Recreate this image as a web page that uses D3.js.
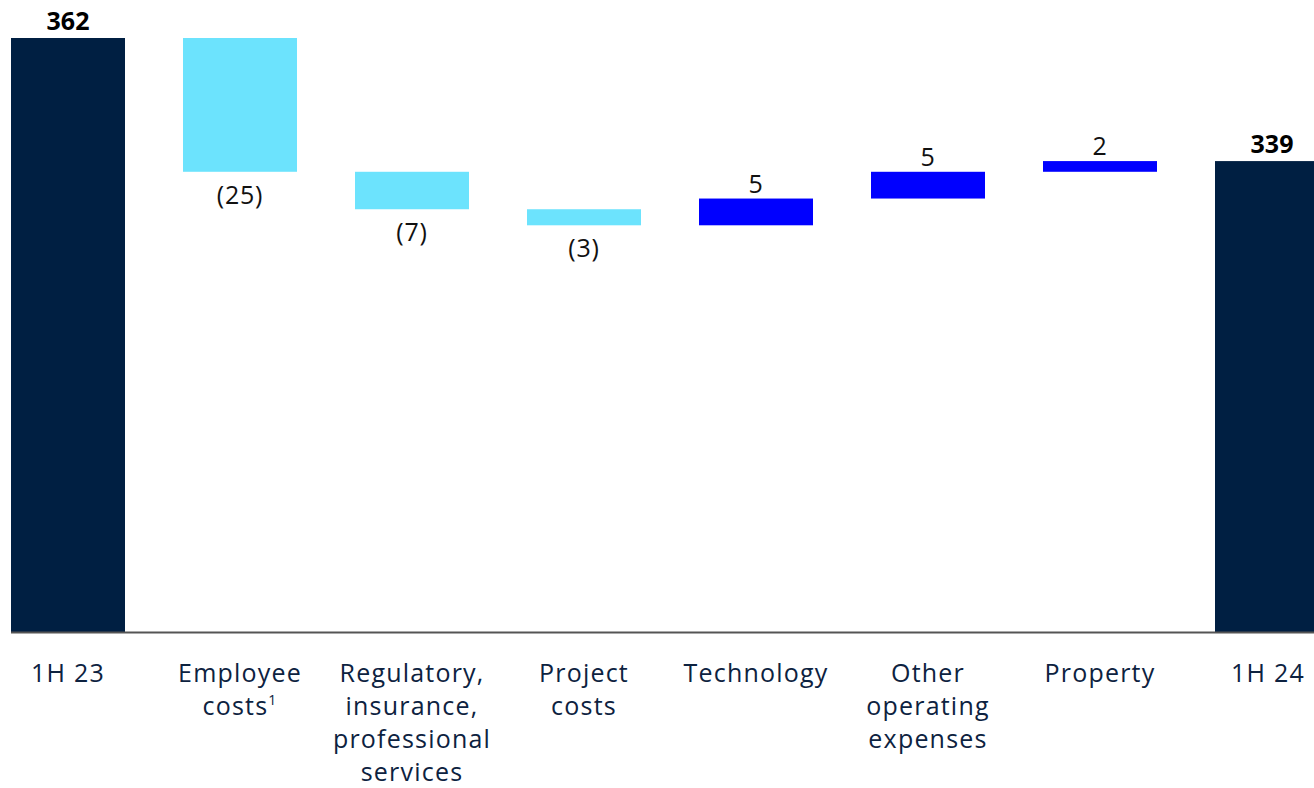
<!DOCTYPE html>
<html><head><meta charset="utf-8">
<script src="https://cdn.jsdelivr.net/npm/d3@7"></script>
<style>body{margin:0;background:#fff;overflow:hidden}svg{display:block}</style>
</head><body>
<svg id="c" width="1314" height="788"></svg>
<script>
const categories = ["1H 23","Employee costs","Regulatory, insurance, professional services","Project costs","Technology","Other operating expenses","Property","1H 24"];
const labelLines = [["1H 23"],["Employee","costs|1"],["Regulatory,","insurance,","professional","services"],["Project","costs"],["Technology"],["Other","operating","expenses"],["Property"],["1H 24"]];
const values = [362,-25,-7,-3,5,5,2,339];
const types = ["total","delta","delta","delta","delta","delta","delta","total"];
const valueLabels = ["362","(25)","(7)","(3)","5","5","2","339"];

const svg = d3.select("#c");
const W=1314, baseY=632, topY=38;
const x = d3.scaleBand().domain(categories).range([11, 11+172*8-58]).paddingInner(58/172).paddingOuter(0);
const y = d3.scaleLinear().domain([251, 362]).range([baseY, topY]);
const colors = {total:"#001f42", neg:"#6ce3fd", pos:"#0000ff"};
const font = "'Open Sans', sans-serif";

let run = 0;
const bars = categories.map((c,i)=>{
  let y0,y1,color;
  if(types[i]==="total"){ y0=251; y1=values[i]; run=values[i]; color=colors.total; }
  else { y0=run; y1=run+values[i]; run=y1; color=values[i]<0?colors.neg:colors.pos; }
  return {c,i,lo:Math.min(y0,y1),hi:Math.max(y0,y1),color,v:values[i],t:types[i]};
});

svg.append("g").selectAll("rect").data(bars).join("rect")
  .attr("x",d=>x(d.c)).attr("width",x.bandwidth())
  .attr("y",d=>y(d.hi)).attr("height",d=>y(d.lo)-y(d.hi))
  .attr("fill",d=>d.color);

svg.append("line").attr("x1",11).attr("x2",W).attr("y1",baseY+0.5).attr("y2",baseY+0.5)
  .attr("stroke","#555").attr("stroke-width",2);

svg.append("g").selectAll("text").data(bars).join("text")
  .attr("x",d=>x(d.c)+x.bandwidth()/2)
  .attr("y",d=> d.t==="total" ? y(d.hi)-8 : (d.v<0 ? y(d.lo)+32 : y(d.hi)-6))
  .attr("text-anchor","middle")
  .attr("font-family",font).attr("font-size",25)
  .attr("letter-spacing",d=>d.t==="total"?0:0.8)
  .attr("font-weight",d=>d.t==="total"?700:400)
  .attr("fill",d=>d.t==="total"?"#000":"#111")
  .text((d)=>valueLabels[d.i]);

const lg = svg.append("g");
categories.forEach((c,i)=>{
  const cx = x(c)+x.bandwidth()/2+(i===7?-4:0);
  const t = lg.append("text").attr("x",cx).attr("y",682)
    .attr("text-anchor","middle").attr("font-family",font).attr("font-size",25)
    .attr("letter-spacing",1.2).attr("fill","#0d2240");
  labelLines[i].forEach((ln,j)=>{
    const parts = ln.split("|");
    t.append("tspan").attr("x",cx).attr("dy",j===0?0:33).text(parts[0]);
    if(parts[1]) t.append("tspan").attr("font-size",14).attr("dy",-10).text(parts[1]);
    if(parts[1]) t.append("tspan").attr("dy",10).text("");
  });
});
</script>
</body></html>
